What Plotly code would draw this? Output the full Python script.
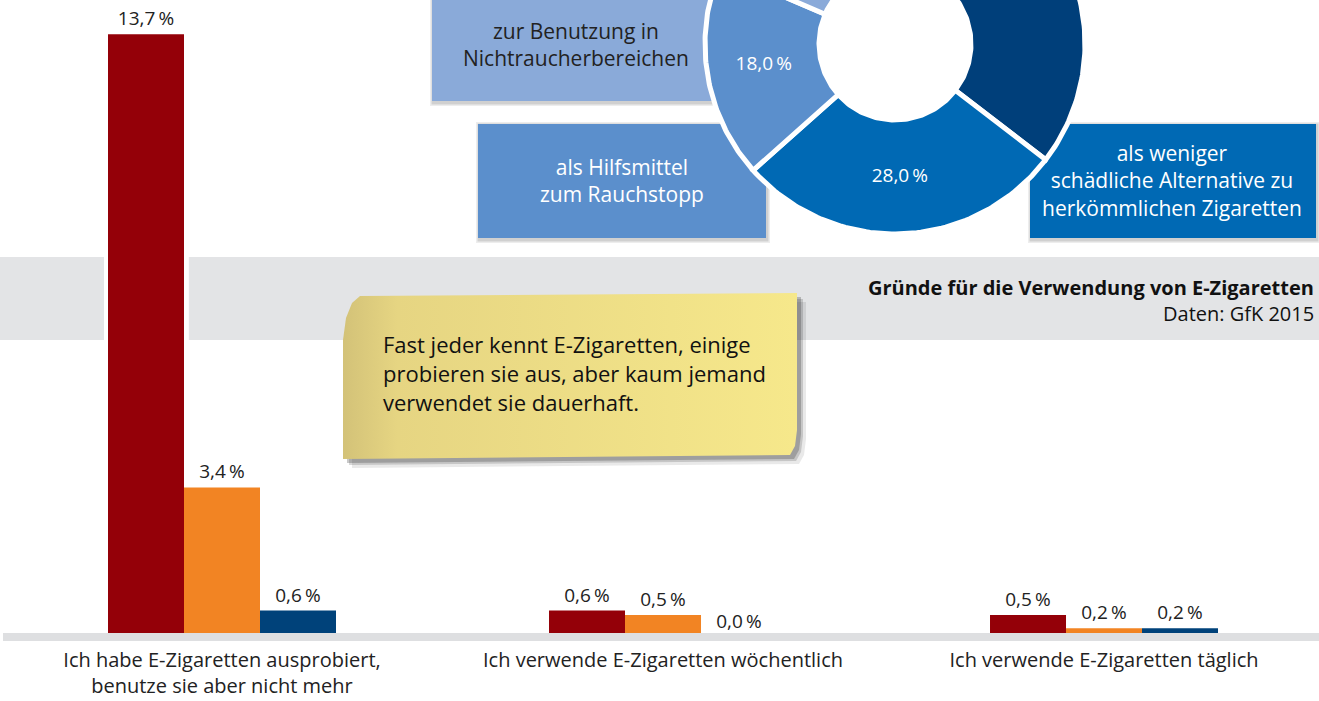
import numpy as np
import plotly.graph_objects as go

# bar chart data
categories = [
    "Ich habe E-Zigaretten ausprobiert,<br>benutze sie aber nicht mehr",
    "Ich verwende E-Zigaretten wöchentlich",
    "Ich verwende E-Zigaretten täglich",
]
series_names = ["Gruppe 1", "Gruppe 2", "Gruppe 3"]
values_red = [13.7, 0.6, 0.5]
values_orange = [3.4, 0.5, 0.2]
values_blue = [0.6, 0.0, 0.2]

# donut data (clockwise from the top right slice); only part of it is visible
reason_labels = [
    "weitere Gründe",
    "als weniger<br>schädliche Alternative zu<br>herkömmlichen Zigaretten",
    "als Hilfsmittel<br>zum Rauchstopp",
    "zur Benutzung in<br>Nichtraucherbereichen",
    "sonstige Gründe",
]
reason_values = [27.0, 28.0, 18.0, 10.0, 17.0]
reason_show_pct = [False, True, True, False, False]

note_lines = [
    "Fast jeder kennt E-Zigaretten, einige",
    "probieren sie aus, aber kaum jemand",
    "verwendet sie dauerhaft.",
]
title = "Gründe für die Verwendung von E-Zigaretten"
source = "Daten: GfK 2015"

W, H = 1319, 701
FONT = "Open Sans"
TXT = "#222222"
BAR_COLORS = ["#940008", "#f28423", "#00427a"]
PIE_COLORS = ["#003f7a", "#0069b4", "#5b8fcc", "#8aaad9", "#8aaad9"]
BAND = "#e3e4e6"


def px(x):
    return x / W


def py(y):
    return 1 - y / H


def pct(v):
    return f"{v:.1f}".replace(".", ",") + "\u2009%"


fig = go.Figure()

# bars
BARGAP = 0.483
for name, vals, col in zip(series_names, [values_red, values_orange, values_blue], BAR_COLORS):
    fig.add_trace(go.Bar(
        x=categories, y=vals, name=name, marker=dict(color=col, line=dict(width=0)),
        text=[pct(v) for v in vals], textposition="outside", cliponaxis=False,
        textfont=dict(family=FONT, size=19, color=TXT), hoverinfo="skip",
    ))

# sticky note (pixel axes)
note_x = [360, 797, 797, 795, 790, 343, 343, 346, 352, 360]
note_y = [296, 293, 430, 446, 455, 459, 340, 318, 303, 296]
for dx, dy, alpha in [(9, 9, 0.10), (6, 6, 0.18), (4, 4, 0.25)]:
    fig.add_trace(go.Scatter(
        x=[v + dx for v in note_x], y=[v + dy for v in note_y], xaxis="x2", yaxis="y2",
        mode="lines", fill="toself", fillcolor=f"rgba(40,40,40,{alpha})",
        line=dict(width=0), hoverinfo="skip"))
fig.add_trace(go.Scatter(
    x=note_x, y=note_y, xaxis="x2", yaxis="y2", mode="lines", fill="toself",
    fillgradient=dict(type="horizontal",
                      colorscale=[[0, "#d3c278"], [0.12, "#e6d582"], [1, "#f6e88b"]]),
    line=dict(width=0), hoverinfo="skip"))

# donut (pixel axes)
CX, CY, R_OUT, R_IN = 895, 44, 190, 76
START = 59.7
edges = START - np.cumsum([0] + reason_values) * 3.6
lab_x, lab_y, lab_t = [], [], []
for i, v in enumerate(reason_values):
    t = np.radians(np.linspace(edges[i], edges[i + 1], 80))
    xs = np.concatenate([CX + R_OUT * np.cos(t), CX + R_IN * np.cos(t[::-1])])
    ys = np.concatenate([CY - R_OUT * np.sin(t), CY - R_IN * np.sin(t[::-1])])
    xs = np.append(xs, xs[0])
    ys = np.append(ys, ys[0])
    fig.add_trace(go.Scatter(
        x=xs, y=ys, xaxis="x2", yaxis="y2", mode="lines", fill="toself",
        fillcolor=PIE_COLORS[i], line=dict(color="white", width=5),
        name=reason_labels[i], hoverinfo="skip"))
    if reason_show_pct[i]:
        mid = np.radians((edges[i] + edges[i + 1]) / 2)
        rm = (R_OUT + R_IN) / 2
        lab_x.append(CX + rm * np.cos(mid))
        lab_y.append(CY - rm * np.sin(mid))
        lab_t.append(pct(v))
fig.add_trace(go.Scatter(
    x=lab_x, y=lab_y, text=lab_t, mode="text", xaxis="x2", yaxis="y2",
    textfont=dict(family=FONT, size=19, color="white"), hoverinfo="skip"))

shapes = []
# grey band, with a white gap around the tall red bar
grp = 1 - BARGAP
red_l, red_r = -grp / 2, -grp / 2 + grp / 3
for x0, x1 in [(-1, red_l - 0.009), (red_r + 0.011, 3)]:
    shapes.append(dict(type="rect", xref="x", yref="paper", x0=x0, x1=x1,
                       y0=py(340), y1=py(257), fillcolor=BAND, line_width=0, layer="below"))
# baseline
shapes.append(dict(type="rect", xref="paper", yref="paper", x0=px(3), x1=1,
                   y0=py(641), y1=py(633), fillcolor="#dedfe1", line_width=0, layer="above"))

# legend boxes for the donut
boxes = [
    (3, 432, 712, 0, 101),
    (2, 478, 766, 124, 238),
    (1, 1030, 1316, 124, 238),
]
annotations = []
for idx, x0, x1, y0, y1 in boxes:
    for grow, alpha in [(3, 0.07), (1.5, 0.12)]:
        shapes.append(dict(type="rect", xref="paper", yref="paper",
                           x0=px(x0 - grow + 1), x1=px(x1 + grow + 1),
                           y0=py(y1 + grow + 2), y1=py(y0 - grow + 1),
                           fillcolor=f"rgba(0,0,0,{alpha})", line_width=0, layer="below"))
    shapes.append(dict(type="rect", xref="paper", yref="paper", x0=px(x0), x1=px(x1),
                       y0=py(y1), y1=py(y0), fillcolor=PIE_COLORS[idx], line_width=0,
                       layer="below"))
text_pos = {3: (576, 44), 2: (622, 180), 1: (1172, 180)}
for idx, (tx, ty) in text_pos.items():
    tc = TXT if idx == 3 else "white"
    annotations.append(dict(x=px(tx), y=py(ty), xref="paper", yref="paper",
                            xanchor="center", yanchor="middle",
                            text=reason_labels[idx], showarrow=False,
                            font=dict(family=FONT, size=21, color=tc)))

# note text
for k, line in enumerate(note_lines):
    annotations.append(dict(x=px(381), y=py(344 + 29 * k), xref="paper", yref="paper",
                            xanchor="left", yanchor="middle", text=line, showarrow=False,
                            font=dict(family=FONT, size=22, color="#111111")))

# title and source, kept just inside the right edge
annotations.append(dict(x=px(1316), y=py(287), xref="paper", yref="paper", xanchor="right",
                        yanchor="middle", text=f"<b>{title}</b>", showarrow=False,
                        font=dict(family=FONT, size=20, color="#111111")))
annotations.append(dict(x=px(1316), y=py(313), xref="paper", yref="paper", xanchor="right",
                        yanchor="middle", text=source, showarrow=False,
                        font=dict(family=FONT, size=20, color="#111111")))

fig.update_layout(
    width=W, height=H, margin=dict(l=0, r=0, t=0, b=0),
    paper_bgcolor="white", plot_bgcolor="rgba(0,0,0,0)",
    barmode="group", bargap=BARGAP, bargroupgap=0, showlegend=False,
    xaxis=dict(domain=[0, 1], range=[-0.5034, 2.4875], showgrid=False, zeroline=False,
               showline=False, ticks="", ticklabelstandoff=9,
               tickfont=dict(family=FONT, size=20, color=TXT)),
    yaxis=dict(domain=[py(637), 1], range=[0, 637 / 44], visible=False),
    xaxis2=dict(domain=[0, 1], range=[0, W], visible=False, anchor="y2"),
    yaxis2=dict(domain=[0, 1], range=[H, 0], visible=False, anchor="x2"),
    shapes=shapes, annotations=annotations,
)

# drop the default page margin so the figure sits at the window's top left corner
fig.write_html("out.html", config={"displayModeBar": False},
               post_script="document.body.style.margin='0';"
                           "document.body.style.overflow='hidden';")
